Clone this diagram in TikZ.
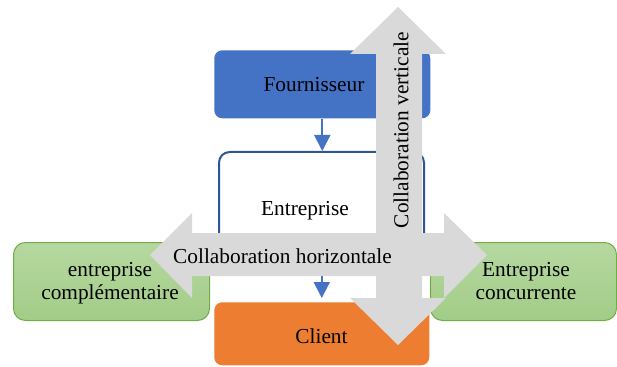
\documentclass[tikz,border=0pt]{standalone}
\usepackage{fontspec}
\setmainfont{Liberation Serif}
\usetikzlibrary{arrows.meta}
\definecolor{fblue}{HTML}{4472C4}
\definecolor{dblue}{HTML}{2F5597}
\definecolor{corange}{HTML}{ED7D31}
\definecolor{ggreen}{HTML}{70AD47}
\definecolor{gtop}{HTML}{B6D8A1}
\definecolor{gbot}{HTML}{A2CC87}
\definecolor{agray}{HTML}{D9D9D9}
\begin{document}
\begin{tikzpicture}[x=0.75pt,y=-0.75pt,
  box/.style={rectangle, rounded corners=6pt, inner sep=0pt, anchor=north west},
  greenbox/.style={box, draw=ggreen, line width=0.75pt, rounded corners=9pt, top color=gtop, bottom color=gbot},
  txt/.style={font=\fontsize{16}{17.25}\selectfont, inner sep=0pt, align=center},
  flow/.style={draw=fblue, line width=1.5pt, -{Triangle[width=12pt,length=12pt]}},
  bigarrow/.style={fill=agray, draw=none}]
\useasboundingbox (0,0) rectangle (617,367);
% boxes
\node[box, fill=fblue, minimum width=162pt, minimum height=51pt] (four) at (214,50) {};
\node[box, fill=white, draw=dblue, line width=1.5pt, rounded corners=8pt, minimum width=153.75pt, minimum height=86.25pt] (entr) at (218,151) {};
\node[box, fill=corange, minimum width=161.25pt, minimum height=47.25pt] (cli) at (214,302) {};
\node[greenbox, minimum width=147pt, minimum height=58.5pt] (comp) at (13,242) {};
\node[greenbox, minimum width=139.5pt, minimum height=58.5pt] (conc) at (430,242) {};
% flow arrows
\draw[flow] (four.south) -- (four.south |- entr.north);
\draw[flow, shorten >=3pt] (cli.north |- entr.south) -- (cli.north);
% big collaboration arrows
\fill[bigarrow] (398,7) -- (446,54) -- (422,54) -- (422,298) -- (446,298) -- (398,345)
  -- (350,298) -- (376,298) -- (376,54) -- (350,54) -- cycle;
\fill[bigarrow] (150,255) -- (192,213) -- (192,233) -- (444,233) -- (444,213) -- (487,255)
  -- (444,298) -- (444,276) -- (192,276) -- (192,298) -- cycle;
% texts
\node[txt, anchor=base] (tfour) at (314,92) {Fournisseur};
\node[txt, anchor=base] (tentr) at (305,215) {Entreprise};
\node[txt, anchor=base] (tcli) at (321.5,343) {Client};
\node[txt] (tcomp) at (110,283.5) {entreprise\\complémentaire};
\node[txt] (tconc) at (526,281.5) {Entreprise\\concurrente};
\node[txt, anchor=base] (th) at (282.5,263) {Collaboration horizontale};
\node[txt, rotate=90] (tv) at (401,130) {Collaboration verticale};
\end{tikzpicture}
\end{document}
